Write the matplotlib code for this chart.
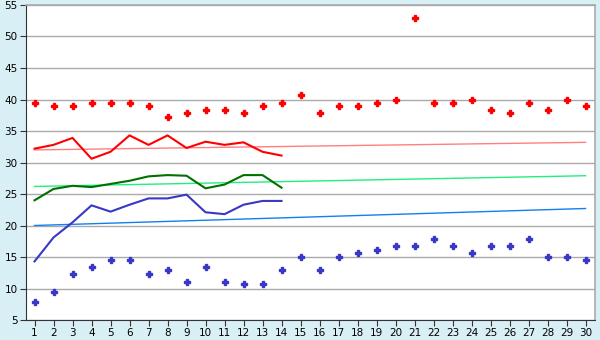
import matplotlib
matplotlib.use("Agg")
import matplotlib.pyplot as plt
import numpy as np

days = np.arange(1, 31)

high_pts = [39.4, 38.9, 38.9, 39.4, 39.4, 39.4, 38.9, 37.2, 37.8, 38.3,
            38.3, 37.8, 38.9, 39.4, 40.7, 37.8, 38.9, 38.9, 39.4, 40.0,
            52.9, 39.4, 39.4, 40.0, 38.3, 37.8, 39.4, 38.3, 40.0, 38.9]
low_pts = [7.8, 9.4, 12.3, 13.4, 14.5, 14.5, 12.3, 12.9, 11.1, 13.4,
           11.1, 10.7, 10.7, 12.9, 15.0, 12.9, 15.0, 15.6, 16.1, 16.7,
           16.7, 17.8, 16.7, 15.6, 16.7, 16.7, 17.8, 15.0, 15.0, 14.5]

line_days = np.arange(1, 15)
red_line = [32.2, 32.8, 33.9, 30.6, 31.7, 34.3, 32.8, 34.3, 32.3, 33.3,
            32.8, 33.2, 31.7, 31.1]
green_line = [24.0, 25.8, 26.3, 26.1, 26.6, 27.1, 27.8, 28.0, 27.9, 25.9,
              26.5, 28.0, 28.0, 26.0]
blue_line = [14.3, 18.1, 20.5, 23.2, 22.2, 23.3, 24.3, 24.3, 24.9, 22.1,
             21.8, 23.3, 23.9, 23.9]

# trend lines: value at day 1 and day 30
trend_days = [1, 30]
red_trend = [32.0, 33.2]
green_trend = [26.2, 27.9]
blue_trend = [20.0, 22.7]

fig = plt.figure(figsize=(6, 3.4), dpi=100, facecolor="#d9eff6")
ax = fig.add_axes([0.0433, 0.0588, 0.9484, 0.9265])
ax.set_facecolor("white")

ax.set_xlim(0.55, 30.5)
ax.set_ylim(5, 55)
ax.set_yticks(np.arange(5, 56, 5))
ax.set_xticks(days)
ax.grid(axis="y", color="#aaaaaa", linewidth=1)
ax.set_axisbelow(True)

ax.plot(trend_days, red_trend, color="#ff8080", linewidth=1)
ax.plot(trend_days, green_trend, color="#20f080", linewidth=1)
ax.plot(trend_days, blue_trend, color="#1080f0", linewidth=1)

ax.plot(line_days, red_line, color="#ff0000", linewidth=1.5)
ax.plot(line_days, green_line, color="#007000", linewidth=1.5)
ax.plot(line_days, blue_line, color="#3838c8", linewidth=1.5)

ax.plot(days, high_pts, "P", color="#ff0000", markersize=3.8, linestyle="none")
ax.plot(days, low_pts, "P", color="#3838c8", markersize=3.8, linestyle="none")

for s in ["top", "right"]:
    ax.spines[s].set_color("#aaaaaa")
    ax.spines[s].set_linewidth(1.2)
ax.spines["left"].set_color("#333333")
ax.spines["bottom"].set_color("#333333")
ax.tick_params(axis="both", labelsize=7.5, length=4, color="#333333", pad=2)

fig.savefig("out.png", dpi=100, facecolor=fig.get_facecolor())
